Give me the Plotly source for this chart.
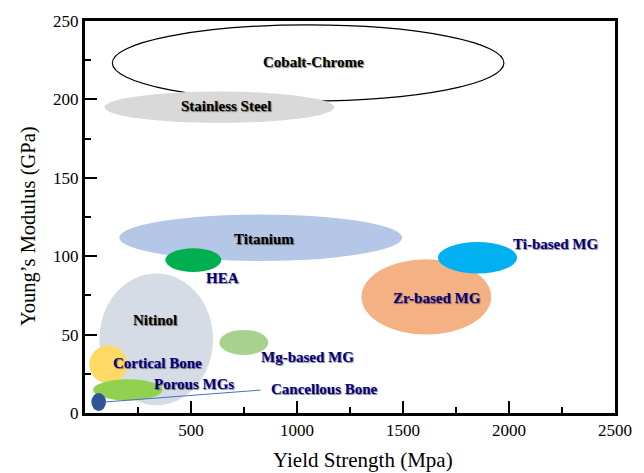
import plotly.graph_objects as go

# Material property windows: yield strength (MPa) vs Young's modulus (GPa)
materials = ["Cobalt-Chrome", "Stainless Steel", "Titanium", "HEA", "Nitinol",
             "Mg-based MG", "Zr-based MG", "Ti-based MG", "Cortical Bone",
             "Porous MGs", "Cancellous Bone"]
ys_lo = [129, 92, 162, 379, 68, 634, 1304, 1665, 20, 38, 30]
ys_hi = [1976, 1176, 1496, 643, 604, 865, 1916, 2038, 199, 366, 99]
mod_lo = [199, 185, 97, 90, 5, 37, 50, 89, 19, 8, 1.3]
mod_hi = [247.5, 205, 126.6, 105, 89, 53, 98, 109, 43, 21.5, 12.7]

# label anchor points (data units)
label_x = [1076, 666, 846, 648, 328, 1049, 1661, 2217, 342, 516, 1129]
label_y = [224, 195.6, 110.8, 86, 59, 35.4, 73.4, 108, 32, 18.4, 15.2]

# leader line from the cancellous bone region to its label
leader_x = [90, 828]
leader_y = [7, 14.6]

x_ticks = [500, 1000, 1500, 2000, 2500]
y_ticks = [0, 50, 100, 150, 200, 250]

fills = ["white", "#d9d9d9", "#b4c7e7", "#00b050", "#d6dce5", "#a9d18e",
         "#f4b183", "#00b0f0", "#ffd966", "#92d050", "#2f5597"]
outlines = [1.2, 0, 0, 0, 0, 0, 0, 0, 0, 0, 0]
label_colors = ["#000000", "#000000", "#000000", "#000080", "#000000", "#000080",
                "#000080", "#000080", "#000080", "#000080", "#000080"]

SERIF = "Liberation Serif"

fig = go.Figure()

shapes = []
for i in range(len(materials)):
    shapes.append(dict(
        type="circle", xref="x", yref="y",
        x0=ys_lo[i], x1=ys_hi[i], y0=mod_lo[i], y1=mod_hi[i],
        fillcolor=fills[i],
        line=dict(color="black", width=outlines[i]),
        layer="below",
    ))

fig.add_trace(go.Scatter(
    x=leader_x, y=leader_y, mode="lines",
    line=dict(color="#4472c4", width=1), hoverinfo="skip", showlegend=False,
))

annotations = []
for i, name in enumerate(materials):
    annotations.append(dict(
        x=label_x[i], y=label_y[i], xref="x", yref="y", text=f"<b>{name}</b>",
        showarrow=False,
        font=dict(family=SERIF, size=15, color=label_colors[i],
                  shadow="1px 1px 1px rgba(0,0,0,0.5)"),
    ))

annotations.append(dict(
    x=0.525, y=-0.12, xref="paper", yref="paper", text="Yield Strength (Mpa)",
    showarrow=False, xanchor="center", yanchor="middle",
    font=dict(family=SERIF, size=21, color="black"),
))
annotations.append(dict(
    x=-0.107, y=0.478, xref="paper", yref="paper", text="Young’s Modulus (GPa)",
    showarrow=False, xanchor="center", yanchor="middle", textangle=-90,
    font=dict(family=SERIF, size=20.5, color="black"),
))

axis_common = dict(
    showgrid=False, zeroline=False, showline=True, linecolor="black",
    linewidth=3, mirror=True, ticks="inside", ticklen=12, tickwidth=2,
    tickcolor="black", tickfont=dict(family=SERIF, size=17, color="black"),
)

fig.update_layout(
    width=644, height=473,
    margin=dict(l=85, r=28, t=18, b=60),
    paper_bgcolor="white", plot_bgcolor="white",
    font=dict(family=SERIF),
    shapes=shapes, annotations=annotations, showlegend=False,
    xaxis=dict(range=[0, 2500], tickvals=x_ticks,
               minor=dict(ticks="inside", ticklen=6, tickwidth=2,
                          tickcolor="black", dtick=250, tick0=0),
               **axis_common),
    yaxis=dict(range=[0, 250], tickvals=y_ticks,
               minor=dict(ticks="inside", ticklen=6, tickwidth=2,
                          tickcolor="black", dtick=25, tick0=0),
               **axis_common),
)

fig.write_html("out.html")
